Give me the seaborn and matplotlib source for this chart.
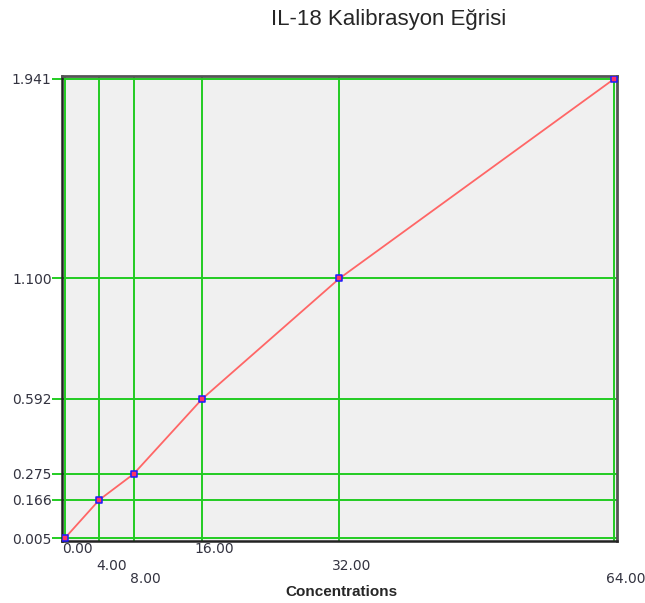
import matplotlib
matplotlib.use("Agg")
import matplotlib.pyplot as plt
import matplotlib.transforms as mtransforms
import pandas as pd
import seaborn as sns

# calibration standards
concentrations = [0, 4, 8, 16, 32, 64]
absorbance = [0.005, 0.166, 0.275, 0.592, 1.100, 1.941]
x_tick_labels = ["0.00", "4.00", "8.00", "16.00", "32.00", "64.00"]
y_tick_labels = ["0.005", "0.166", "0.275", "0.592", "1.100", "1.941"]

TITLE = "IL-18 Kalibrasyon Eğrisi"
XLABEL = "Concentrations"

GREEN = "#22cc22"
TICK_COLOR = "#333340"


def main() -> None:
    sns.set_style("white")
    plt.rcParams["font.family"] = ["Liberation Sans", "DejaVu Sans"]

    df = pd.DataFrame({"conc": concentrations, "od": absorbance})

    fig = plt.figure(figsize=(6.45, 6.03), dpi=100)
    ax = fig.add_axes([0.0961, 0.1028, 0.8605, 0.7712])
    ax.set_facecolor("#f0f0f0")

    sns.lineplot(data=df, x="conc", y="od", ax=ax, color="#ff6666",
                 linewidth=1.3, zorder=3)
    sns.scatterplot(data=df, x="conc", y="od", ax=ax, marker="s", s=18,
                    color="#ff3366", edgecolor="#1a1aff", linewidth=1.1,
                    zorder=4)

    ax.set_xlim(-0.35, 64.35)
    ax.set_ylim(-0.0077, 1.9537)

    ax.set_xticks(concentrations)
    ax.set_xticklabels([])
    ax.set_yticks(absorbance)
    ax.set_yticklabels(y_tick_labels, family="DejaVu Sans")

    # staggered x labels on three rows, nudged right of their grid line
    row_offsets = [-8, -25, -38]  # pixels below the axes
    base = mtransforms.blended_transform_factory(ax.transData, ax.transAxes)
    for i, (xv, lbl) in enumerate(zip(concentrations, x_tick_labels)):
        dy = row_offsets[i % 3]
        tr = base + mtransforms.ScaledTranslation(0.12, dy / 100, fig.dpi_scale_trans)
        ax.text(xv, 0, lbl, transform=tr, ha="center", va="center",
                fontsize=10, family="DejaVu Sans", color=TICK_COLOR,
                clip_on=False)

    ax.grid(True, color=GREEN, linewidth=1.4, zorder=1)
    ax.set_axisbelow(True)

    ax.tick_params(axis="x", length=0)
    ax.tick_params(axis="y", length=7, width=1.4, color=GREEN, pad=0.5,
                   labelsize=10, labelcolor=TICK_COLOR, left=True)

    for side in ["left", "bottom"]:
        ax.spines[side].set_color("#222222")
        ax.spines[side].set_linewidth(1.8)
    for side in ["top", "right"]:
        ax.spines[side].set_color("#555555")
        ax.spines[side].set_linewidth(2.0)

    ax.set_xlabel(XLABEL, fontsize=11, fontweight="bold", va="center")
    ax.xaxis.set_label_coords(0.503, -0.109)
    ax.set_ylabel("")

    fig.text(0.602, 0.967, TITLE, ha="center", va="center", fontsize=16)

    fig.savefig("out.png", dpi=100)
    plt.close(fig)


if __name__ == "__main__":
    main()
